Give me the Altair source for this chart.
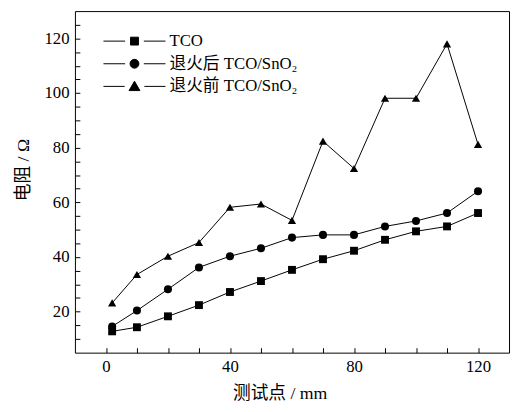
import altair as alt
import pandas as pd

# ---- data ----
x_mm = [2, 10, 20, 30, 40, 50, 60, 70, 80, 90, 100, 110, 120]
tco = [12.8, 14.3, 18.3, 22.4, 27.2, 31.2, 35.3, 39.2, 42.3, 46.3, 49.4, 51.2, 56.1]
after_anneal = [14.6, 20.4, 28.2, 36.2, 40.3, 43.2, 47.1, 48.1, 48.1, 51.2, 53.2, 56.1, 64.1]
before_anneal = [23.2, 33.6, 40.3, 45.3, 58.2, 59.4, 53.4, 82.4, 72.4, 98.1, 98.1, 118.0, 81.2]
series_names = ["TCO", "退火后 TCO/SnO₂", "退火前 TCO/SnO₂"]

x_ticks = list(range(0, 130, 10))
y_ticks = list(range(10, 130, 5))

rows = []
for name, vals in zip(series_names, [tco, after_anneal, before_anneal]):
    for xv, yv in zip(x_mm, vals):
        rows.append({"x": xv, "y": yv, "series": name})
df = pd.DataFrame(rows)

FONT = "Liberation Serif, DejaVu Serif, Noto Sans CJK SC"

x_enc = alt.X(
    "x:Q",
    scale=alt.Scale(domain=[-10, 130], nice=False, zero=False),
    axis=alt.Axis(
        values=x_ticks,
        labelExpr="datum.value % 40 === 0 ? datum.label : ''",
        tickSize=5, offset=-5, domain=False, grid=False,
        labelOverlap=False, labelPadding=6,
        title="测试点 / mm", titlePadding=11, titleX=208,
    ),
)
y_enc = alt.Y(
    "y:Q",
    scale=alt.Scale(domain=[5, 130], nice=False, zero=False),
    axis=alt.Axis(
        values=y_ticks,
        labelExpr="datum.value % 20 === 0 ? datum.label : ''",
        tickSize=5, offset=-5, domain=False, grid=False,
        labelOverlap=False, labelPadding=6,
        title="电阻 / Ω", titlePadding=12, titleY=161,
    ),
)

base = alt.Chart(df)

lines = base.mark_line(color="black", strokeWidth=1).encode(
    x=x_enc, y=y_enc, detail="series:N"
)

points = base.mark_point(filled=True, color="black", opacity=1).encode(
    x=x_enc,
    y=y_enc,
    shape=alt.Shape(
        "series:N",
        scale=alt.Scale(domain=series_names, range=["square", "circle", "triangle-up"]),
        legend=None,
    ),
    size=alt.Size(
        "series:N",
        scale=alt.Scale(domain=series_names, range=[64, 70, 110]),
        legend=None,
    ),
)

legend_paths = [
    "M-6.3,0H-1.9M1.9,0H6.3M-0.8,-0.8H0.8V0.8H-0.8Z",
    "M-6.3,0H-1.9M1.9,0H6.3M0.9,0A0.9,0.9,0,1,1,-0.9,0A0.9,0.9,0,1,1,0.9,0Z",
    "M-6.3,0H-2M2,0H6.3M0,-1.05L1.1,0.85H-1.1Z",
]

legend_props = dict(
    title=None,
    orient="none",
    legendX=52,
    legendY=22,
    labelFont=FONT,
    labelFontSize=17,
    labelColor="black",
    labelOffset=27,
    rowPadding=5,
    symbolStrokeWidth=1,
    symbolOpacity=1,
)

legend_layer = base.mark_point(
    filled=True, color="black", strokeWidth=1, opacity=1, size=64
).encode(
    x=x_enc,
    y=y_enc,
    shape=alt.Shape(
        "series:N",
        scale=alt.Scale(domain=series_names, range=legend_paths),
        legend=alt.Legend(**legend_props),
    ),
    stroke=alt.Stroke(
        "series:N",
        scale=alt.Scale(domain=series_names, range=["black", "black", "black"]),
        legend=alt.Legend(**legend_props),
    ),
).transform_filter("false")

chart = (
    alt.layer(lines, points, legend_layer)
    .resolve_scale(shape="independent", size="independent", stroke="independent")
    .properties(
        width=441,
        height=347,
        autosize=alt.AutoSizeParams(type="none"),
        padding={"left": 68, "top": 0, "right": 2, "bottom": 48},
    )
    .configure_view(stroke="black", strokeWidth=1)
    .configure_axis(
        labelFont=FONT, labelFontSize=17, labelColor="black",
        titleFont=FONT, titleFontSize=18, titleFontWeight="normal", titleColor="black",
        tickColor="black", tickWidth=1,
    )
)

chart.save("out.html", embed_options={"renderer": "svg", "actions": False})
